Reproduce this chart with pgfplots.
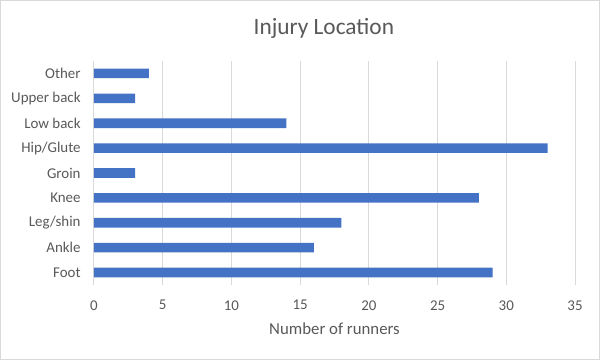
\documentclass[border=0pt]{standalone}
\usepackage{pgfplots}
\pgfplotsset{compat=1.18}
\usepackage{fontspec}
\setmainfont{Carlito}
\definecolor{barblue}{HTML}{4472C4}
\definecolor{txt}{HTML}{595959}
\definecolor{gridc}{HTML}{D9D9D9}
\begin{document}
\begin{tikzpicture}
\path[draw=gridc, line width=0.75pt, fill=white] (0.4pt,0.4pt) rectangle (449.6pt,269.6pt);
\begin{axis}[
  at={(70.5pt,56.25pt)}, anchor=south west,
  scale only axis, width=360.75pt, height=168pt,
  xbar, bar width=7.2pt,
  xmin=0, xmax=35, ymin=-0.5, ymax=8.5,
  xtick={0,5,...,35},
  ytick={0,...,8},
  yticklabels={Foot,Ankle,Leg/shin,Knee,Groin,Hip/Glute,Low back,Upper back,Other},
  xmajorgrids, grid style={gridc, line width=0.75pt},
  axis line style={draw=none},
  major tick length=0pt,
  tick label style={font=\fontsize{11.2}{13}\selectfont, text=txt},
  /pgf/number format/assume math mode=true,
  yticklabel style={xshift=-6.5pt},
  xticklabel style={yshift=-8pt},
  xlabel={Number of runners},
  xlabel style={font=\fontsize{12.6}{15}\selectfont, text=txt, yshift=-3pt},
  title={Injury Location},
  title style={font=\fontsize{17.5}{21}\selectfont, text=txt, yshift=7pt, xshift=-8pt},
]
\addplot[fill=barblue, draw=none] coordinates {
(29,0) (16,1) (18,2) (28,3) (3,4) (33,5) (14,6) (3,7) (4,8)};
\end{axis}
\end{tikzpicture}
\end{document}
